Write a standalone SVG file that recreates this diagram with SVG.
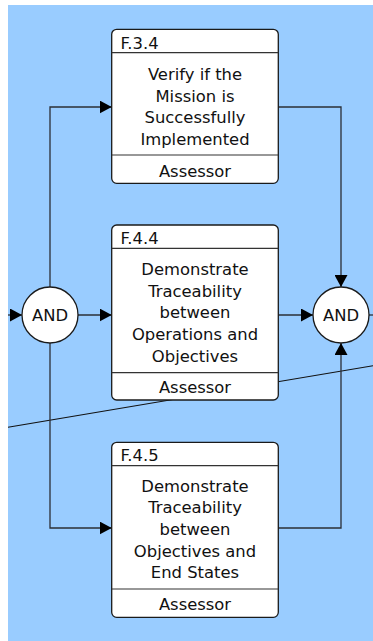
<svg xmlns="http://www.w3.org/2000/svg" width="373" height="641" viewBox="0 0 373 641">
  <style>
    .bg { fill: #99ccff; }
    .conn { fill: none; stroke: #2b2f36; stroke-width: 1.3; }
    .thin { fill: none; stroke: #111; stroke-width: 1.1; }
    .box { fill: #ffffff; stroke: #1a1a1a; stroke-width: 1.3; }
    .sep { stroke: #333; stroke-width: 1.2; }
    .gate { fill: #ffffff; stroke: #1a1a1a; stroke-width: 1.3; }
    text { font-family: "DejaVu Sans", "Liberation Sans", sans-serif; font-size: 16.4px; fill: #111; }
    .c { text-anchor: middle; }
  </style>
  <defs>
    <marker id="arrow" markerUnits="userSpaceOnUse" markerWidth="12" markerHeight="13" refX="12" refY="6.5" orient="auto">
      <path d="M0,0 L12,6.5 L0,13 Z" fill="#000"/>
    </marker>
  </defs>

  <rect class="bg" x="8" y="5" width="365" height="636"/>

  <!-- crossing line behind the activity boxes -->
  <line class="thin" x1="8" y1="427.3" x2="373" y2="365.7"/>

  <g id="connectors">
    <line class="conn" x1="8" y1="315" x2="22" y2="315" marker-end="url(#arrow)"/>
    <polyline class="conn" points="50,287 50,107 111.7,107" marker-end="url(#arrow)"/>
    <line class="conn" x1="78" y1="315" x2="111.7" y2="315" marker-end="url(#arrow)"/>
    <polyline class="conn" points="50,343 50,528 111.7,528" marker-end="url(#arrow)"/>
    <polyline class="conn" points="278.3,107 341,107 341,287" marker-end="url(#arrow)"/>
    <line class="conn" x1="278.3" y1="315" x2="313" y2="315" marker-end="url(#arrow)"/>
    <polyline class="conn" points="278.3,528 341,528 341,343" marker-end="url(#arrow)"/>
    <line class="conn" x1="369" y1="315" x2="373" y2="315"/>
  </g>

  <g id="and-in">
    <circle class="gate" cx="50" cy="315" r="28"/>
    <text class="c" x="50" y="321">AND</text>
  </g>

  <g id="and-out">
    <circle class="gate" cx="341" cy="315" r="28"/>
    <text class="c" x="341" y="321">AND</text>
  </g>

  <g id="f34">
    <rect class="box" x="111.7" y="29.3" width="166.6" height="154" rx="5"/>
    <line class="sep" x1="111.7" y1="52.7" x2="278.3" y2="52.7"/>
    <line class="sep" x1="111.7" y1="155" x2="278.3" y2="155"/>
    <text x="120.5" y="48.5">F.3.4</text>
    <text class="c" x="195" y="80">Verify if the</text>
    <text class="c" x="195" y="101.7">Mission is</text>
    <text class="c" x="195" y="123.3">Successfully</text>
    <text class="c" x="195" y="145">Implemented</text>
    <text class="c" x="195" y="176.7">Assessor</text>
  </g>

  <g id="f44">
    <rect class="box" x="111.7" y="225" width="166.6" height="175" rx="5"/>
    <line class="sep" x1="111.7" y1="248.3" x2="278.3" y2="248.3"/>
    <line class="sep" x1="111.7" y1="372.7" x2="278.3" y2="372.7"/>
    <text x="120.5" y="243.5">F.4.4</text>
    <text class="c" x="195" y="275">Demonstrate</text>
    <text class="c" x="195" y="296.7">Traceability</text>
    <text class="c" x="195" y="318.3">between</text>
    <text class="c" x="195" y="340">Operations and</text>
    <text class="c" x="195" y="361.7">Objectives</text>
    <text class="c" x="195" y="393.3">Assessor</text>
  </g>

  <g id="f45">
    <rect class="box" x="111.7" y="442.3" width="166.6" height="175" rx="5"/>
    <line class="sep" x1="111.7" y1="465.7" x2="278.3" y2="465.7"/>
    <line class="sep" x1="111.7" y1="589" x2="278.3" y2="589"/>
    <text x="120.5" y="460.7">F.4.5</text>
    <text class="c" x="195" y="491.7">Demonstrate</text>
    <text class="c" x="195" y="513.3">Traceability</text>
    <text class="c" x="195" y="535">between</text>
    <text class="c" x="195" y="556.7">Objectives and</text>
    <text class="c" x="195" y="578.3">End States</text>
    <text class="c" x="195" y="610">Assessor</text>
  </g>
</svg>
